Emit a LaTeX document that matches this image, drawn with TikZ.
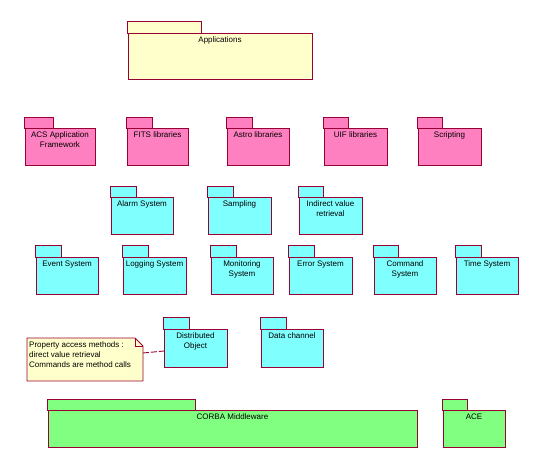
\documentclass[tikz,border=0pt]{standalone}
\usepackage{fontspec}
\setmainfont{Liberation Sans}
\usetikzlibrary{calc}
\definecolor{edge}{RGB}{153,0,51}
\definecolor{appfill}{RGB}{255,255,204}
\definecolor{pinkfill}{RGB}{255,128,192}
\definecolor{cyanfill}{RGB}{128,255,255}
\definecolor{greenfill}{RGB}{128,255,128}
\definecolor{notefill}{RGB}{255,255,204}
\tikzset{
  pkgline/.style={draw=edge, line width=0.9pt},
  pkgbody/.style={pkgline, rectangle, inner sep=0pt, outer sep=0pt, anchor=north west},
  pkgtext/.style={font=\fontsize{8}{10}\selectfont, align=center, inner sep=0pt, anchor=north},
  notetext/.style={font=\fontsize{8}{10}\selectfont, align=left, inner sep=0pt, anchor=north west},
  conn/.style={draw=edge, line width=0.9pt, dash pattern=on 6pt off 2pt},
}
% #1 name #2 fill #3 tab x1 #4 tab x2 #5 tab top #6 body top #7 body x2 #8 body bottom #9 text
\newcommand\umlpkg[9]{%
  \draw[pkgline, fill=#2] (#3,#5) rectangle (#4,#6);
  \node[pkgbody, fill=#2, minimum width={#7-#3-1}, minimum height={#8-#6}] (#1) at (#3+1,#6) {};
  \node[pkgtext] (#1-label) at ($(#1.north)+(0,3.5)$) {#9};
}
\begin{document}
\begin{tikzpicture}[x=1pt, y=-1pt]
\useasboundingbox (0,0) rectangle (542,469);
\umlpkg{app}{appfill}{127}{201}{21}{33}{312}{79}{Applications}
% pink row
\umlpkg{acs}{pinkfill}{24}{53}{117}{128}{95}{165}{ACS Application\\Framework}
\umlpkg{fits}{pinkfill}{126}{152}{117}{128}{188}{165}{FITS libraries}
\umlpkg{astro}{pinkfill}{226}{252}{117}{128}{289}{165}{Astro libraries}
\umlpkg{uif}{pinkfill}{323}{348}{117}{128}{387}{165}{UIF libraries}
\umlpkg{script}{pinkfill}{417}{442}{117}{128}{481}{165}{Scripting}
% cyan row 1
\umlpkg{alarm}{cyanfill}{110}{136}{186}{197}{173}{234}{Alarm System}
\umlpkg{sampling}{cyanfill}{207}{233}{186}{197}{271}{234}{Sampling}
\umlpkg{indirect}{cyanfill}{298}{323}{186}{197}{362}{234}{Indirect value\\retrieval}
% cyan row 2
\umlpkg{event}{cyanfill}{35}{61}{245}{257}{98}{294}{Event System}
\umlpkg{logging}{cyanfill}{122}{148}{245}{257}{186}{294}{Logging System}
\umlpkg{monitor}{cyanfill}{210}{236}{245}{257}{273}{294}{Monitoring\\System}
\umlpkg{error}{cyanfill}{288}{314}{245}{257}{352}{294}{Error System}
\umlpkg{command}{cyanfill}{373}{398}{245}{257}{436}{294}{Command\\System}
\umlpkg{time}{cyanfill}{455}{481}{245}{257}{518}{294}{Time System}
% cyan row 3
\umlpkg{dist}{cyanfill}{163}{189}{317}{329}{227}{367}{Distributed\\Object}
\umlpkg{data}{cyanfill}{260}{286}{317}{329}{323}{367}{Data channel}
% green row
\umlpkg{corba}{greenfill}{47}{195}{399}{410}{417}{447}{CORBA Middleware}
\umlpkg{ace}{greenfill}{442}{467}{399}{410}{505}{447}{ACE}
% note
\node[rectangle, inner sep=0pt, outer sep=0pt, minimum width=116, minimum height=43, anchor=north west] (note) at (27,338) {};
\draw[pkgline, fill=notefill] (note.south west) -- (note.north west) -- ([xshift=-8pt]note.north east) -- ([yshift=-8pt]note.north east) -- (note.south east) -- cycle;
\draw[pkgline] ([xshift=-8pt]note.north east) -- ([xshift=-8pt,yshift=-8pt]note.north east) -- ([yshift=-8pt]note.north east);
\node[notetext] (notelabel) at ($(note.north west)+(2,3.5)$) {Property access methods :\\direct value retrieval\\Commands are method calls};
\draw[conn] ($(note.north east)+(0,15)$) -- ($(dist.north west)+(0,22)$);
\end{tikzpicture}
\end{document}
